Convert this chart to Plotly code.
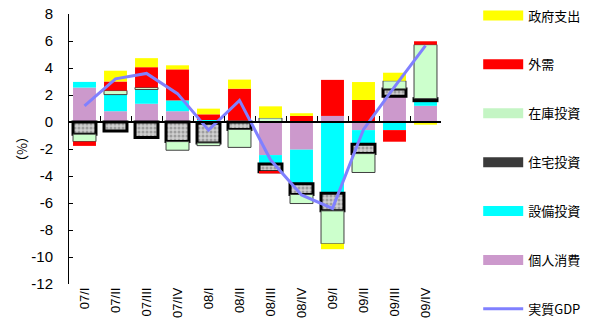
import plotly.graph_objects as go

categories = ['07/I', '07/II', '07/III', '07/IV', '08/I', '08/II',
              '08/III', '08/IV', '09/I', '09/II', '09/III', '09/IV']

personal = [2.55, 0.8, 1.35, 0.8, -0.1, 0.0, -2.45, -2.05, 0.45, -0.6, 1.9, 1.2]
equipment = [0.42, 1.23, 1.06, 0.8, 0.15, 0.1, -0.67, -2.52, -5.28, -1.04, -0.6, 0.38]
housing = [-0.9, -0.67, -1.14, -1.45, -1.45, -0.55, -0.57, -0.8, -1.3, -0.7, 0.55, 0.15]
inventory = [-0.55, 0.3, 0.15, -0.64, -0.2, -1.33, 0.3, -0.67, -2.44, -1.4, 0.6, 4.0]
external = [-0.32, 0.67, 1.5, 2.3, 0.42, 2.37, -0.12, 0.45, 2.67, 1.63, -0.86, 0.25]
government = [0.0, 0.8, 0.67, 0.3, 0.42, 0.67, 0.86, 0.2, -0.4, 1.33, 0.6, -0.2]
gdp = [1.2, 3.2, 3.6, 2.1, -0.6, 1.6, -2.8, -5.4, -6.4, -0.55, 2.6, 5.65]

y_ticks = list(range(-12, 9, 2))

FONT = "Liberation Sans, Arial, Noto Sans CJK JP, sans-serif"
JP = "Noto Sans CJK JP"

fig = go.Figure()

# stacked bars (stack order = trace order)
bar_specs = [
    ('個人消費', personal, dict(color='#cc99cc', line=dict(width=0))),
    ('設備投資', equipment, dict(color='#00ffff', line=dict(width=0))),
    ('住宅投資', housing, dict(color='#b0b0b0', line=dict(color='#000000', width=3),
                           pattern=dict(shape='.', fgcolor='#6e6e6e', bgcolor='#cfcfcf',
                                        size=4, solidity=0.45))),
    ('在庫投資', inventory, dict(color='#ccffcc', line=dict(color='#404040', width=1))),
    ('外需', external, dict(color='#ff0000', line=dict(width=0))),
    ('政府支出', government, dict(color='#ffff00', line=dict(width=0))),
]
for name, vals, mk in bar_specs:
    fig.add_trace(go.Bar(x=categories, y=vals, name=name, marker=mk, showlegend=False))

fig.add_trace(go.Scatter(x=categories, y=gdp, name='実質GDP', showlegend=False,
                         mode='lines', line=dict(color='#8080ff', width=3)))

# legend entries (wide rectangular swatches)
legend_specs = [
    ('政府支出', '#ffff00', 10),
    ('外需', '#ff0000', 10),
    ('在庫投資', '#c4f5c4', 10),
    ('住宅投資', '#3a3a3a', 10),
    ('設備投資', '#00ffff', 10),
    ('個人消費', '#cc99cc', 10),
    ('実質GDP', '#8080ff', 3),
]
for rank, (name, col, w) in enumerate(legend_specs, start=1):
    fig.add_trace(go.Scatter(x=[None], y=[None], name=name, mode='lines',
                             line=dict(color=col, width=w), legendrank=rank,
                             legendgroup='g%d' % rank, hoverinfo='skip'))

# helper trace so the zero-line category axis is drawn
fig.add_trace(go.Scatter(x=categories, y=[None] * len(categories), xaxis='x2',
                         showlegend=False, hoverinfo='skip', mode='lines'))

fig.update_layout(
    width=602, height=333,
    margin=dict(l=69, r=161, t=14, b=49, autoexpand=False),
    barmode='relative',
    bargap=0.26,
    plot_bgcolor='white',
    paper_bgcolor='white',
    font=dict(family=FONT, size=13, color='#000000'),
    xaxis=dict(
        type='category',
        showline=False, showgrid=False, zeroline=False,
        ticks='', tickangle=-90,
        tickfont=dict(size=13, family=FONT),
    ),
    xaxis2=dict(
        type='category', overlaying='x', matches='x',
        anchor='free', position=0.6, side='bottom',
        showline=True, linecolor='#000000', linewidth=1.5,
        ticks='inside', ticklen=5, tickcolor='#000000', tickson='boundaries',
        showticklabels=False, showgrid=False, zeroline=False,
    ),
    yaxis=dict(
        range=[-12, 8],
        tickvals=y_ticks,
        ticktext=[str(v) for v in y_ticks],
        showgrid=False, zeroline=False,
        showline=True, linecolor='#000000', linewidth=1,
        ticks='inside', ticklen=4, tickcolor='#000000',
        ticklabelstandoff=12,
        tickfont=dict(size=15, family=FONT),
        title=dict(text='（%）', font=dict(size=13, family=JP), standoff=0),
    ),
    legend=dict(
        x=1.1, xanchor='left', y=1.05, yanchor='top',
        tracegroupgap=29,
        maxheight=400,
        font=dict(size=13, family=JP),
        itemwidth=40,
        bgcolor='rgba(0,0,0,0)',
    ),
)

fig.write_html("out.html")
